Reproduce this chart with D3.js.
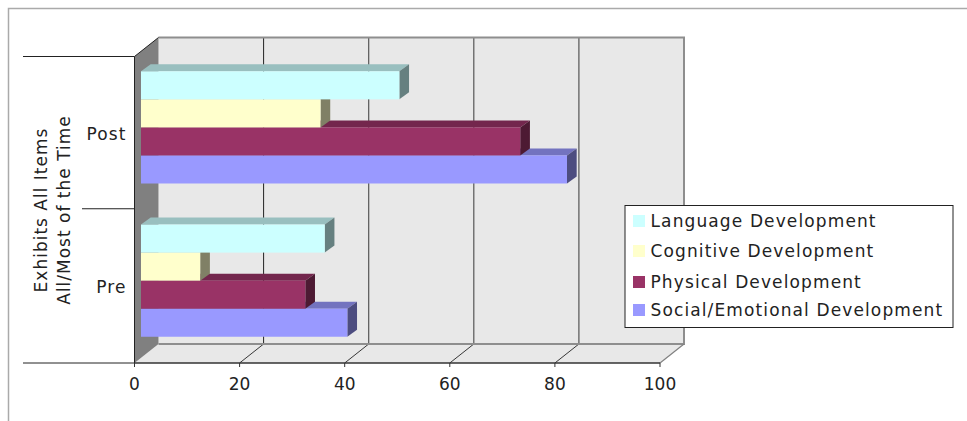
<!DOCTYPE html>
<html>
<head>
<meta charset="utf-8">
<script src="https://cdn.jsdelivr.net/npm/d3@7"></script>
<style>
  html, body { margin: 0; padding: 0; background: #fff; }
  svg { display: block; }
  text { font-family: "DejaVu Sans", Verdana, sans-serif; fill: #222; }
</style>
</head>
<body>
<svg id="chart" width="967" height="421"></svg>
<script>
// Chart data
const categories = ["Pre", "Post"];
const seriesNames = ["Language Development", "Cognitive Development", "Physical Development", "Social/Emotional Development"];
const language = [36.2, 50.4];
const cognitive = [12.5, 35.4];
const physical = [32.5, 73.4];
const social = [40.5, 82.3];
const xTicks = [0, 20, 40, 60, 80, 100];
const axisTitle = ["Exhibits All Items", "All/Most of the Time"];
const seriesColors = ["#CCFFFF", "#FFFFCC", "#993366", "#9999FF"];
const seriesValues = [language, cognitive, physical, social];

// Layout
const svg = d3.select("#chart");
const depthWall = { dx: 24, dy: -19 };
const depthBar = { dx: 9.7, dy: -7 };
const barInset = 6.5;
const plot = { left: 134.5, right: 660, top: 56.5, bottom: 363 };

const x = d3.scaleLinear().domain([0, 100]).range([plot.left, plot.right]);
const yCat = d3.scaleBand().domain(categories).range([plot.bottom, plot.top]);
const ySeries = d3.scaleBand().domain(d3.range(seriesNames.length)).range([14.8, 127]);

const pts = a => a.map(p => p.join(",")).join(" ");

// Outer frame, open on the right and at the bottom
svg.append("path").attr("d", "M8.5,421V8.5H967").attr("fill", "none")
  .attr("stroke", "#aaa").attr("stroke-width", 1.5);

// Back wall
const back = {
  l: plot.left + depthWall.dx, r: plot.right + depthWall.dx,
  t: plot.top + depthWall.dy, b: plot.bottom + depthWall.dy
};
svg.append("rect").attr("x", back.l).attr("y", back.t)
  .attr("width", back.r - back.l).attr("height", back.b - back.t).attr("fill", "#e8e8e8");

// Floor
svg.append("polygon").attr("fill", "#e8e8e8").attr("points", pts([
  [plot.left, plot.bottom], [plot.right, plot.bottom], [back.r, back.b], [back.l, back.b]
]));

// Gridlines on the back wall
svg.selectAll(".grid").data(xTicks.slice(1, -1)).join("line").attr("class", "grid")
  .attr("x1", d => x(d) + depthWall.dx).attr("x2", d => x(d) + depthWall.dx)
  .attr("y1", back.t).attr("y2", back.b)
  .attr("stroke", (d, i) => i === 0 ? "#222" : "#555").attr("stroke-width", (d, i) => i === 0 ? 1 : 1.2);

// Gridlines running across the floor
svg.selectAll(".floor").data(xTicks.slice(1, -1)).join("line").attr("class", "floor")
  .attr("x1", d => x(d)).attr("x2", d => x(d) + depthWall.dx)
  .attr("y1", plot.bottom).attr("y2", back.b)
  .attr("stroke", "#222").attr("stroke-width", 0.9);

// Wall outline
svg.append("path")
  .attr("d", `M${back.l},${back.t}H${back.r}V${back.b}H${back.l}`)
  .attr("fill", "none").attr("stroke", "#8e8e8e").attr("stroke-width", 2);
svg.append("line").attr("x1", plot.right).attr("y1", plot.bottom)
  .attr("x2", back.r).attr("y2", back.b).attr("stroke", "#808080").attr("stroke-width", 1.2);

// Side wall
svg.append("polygon").attr("fill", "#808080").attr("points", pts([
  [plot.left, plot.top], [back.l, back.t], [back.l, back.b], [plot.left, plot.bottom]
]));
svg.append("path").attr("d", `M${plot.left},${plot.bottom}V${plot.top}L${back.l},${back.t}`)
  .attr("fill", "none").attr("stroke", "#222").attr("stroke-width", 1);

// Category divider lines and the front edge of the floor
const dividers = [
  { y: plot.top, from: 23 },
  { y: yCat("Pre") - 1, from: 82 },
  { y: plot.bottom, from: 23 }
];
svg.selectAll(".divider").data(dividers).join("line").attr("class", "divider")
  .attr("x1", d => d.from).attr("x2", plot.left).attr("y1", d => d.y).attr("y2", d => d.y)
  .attr("stroke", "#222").attr("stroke-width", 1);
svg.append("line").attr("x1", plot.left).attr("x2", plot.right)
  .attr("y1", plot.bottom).attr("y2", plot.bottom).attr("stroke", "#333").attr("stroke-width", 1.5);

// Value axis ticks and labels
const xAxis = svg.append("g");
xAxis.selectAll("line").data(xTicks).join("line")
  .attr("x1", d => x(d)).attr("x2", d => x(d))
  .attr("y1", plot.bottom).attr("y2", plot.bottom + 4).attr("stroke", "#333");
xAxis.selectAll("text").data(xTicks).join("text")
  .attr("x", d => x(d)).attr("y", 390).attr("text-anchor", "middle")
  .attr("font-size", 17).text(d => d);

// Category labels
svg.selectAll(".cat").data(categories).join("text").attr("class", "cat")
  .attr("x", 126.5).attr("y", d => yCat(d) + yCat.bandwidth() / 2 + 7)
  .attr("text-anchor", "end").attr("font-size", 17).attr("letter-spacing", 1.1).text(d => d);

// Axis title, rotated, two lines
const titleBaselines = [46.5, 70];
svg.selectAll(".axis-title").data(axisTitle).join("text").attr("class", "axis-title")
  .attr("transform", (d, i) => `translate(${titleBaselines[i]},210) rotate(-90)`)
  .attr("text-anchor", "middle").attr("font-size", 17).attr("letter-spacing", 1).text(d => d);

// 3D bars, painted from the lowest series upward so each front face covers the top face below
const shade = (c, k) => {
  const rgb = d3.rgb(c);
  return d3.rgb(rgb.r * k, rgb.g * k, rgb.b * k).formatHex();
};

categories.forEach((cat, ci) => {
  const top = yCat(cat);
  d3.range(seriesNames.length).reverse().forEach(si => {
    const color = seriesColors[si];
    const y0 = top + ySeries(si);
    const y1 = y0 + ySeries.bandwidth();
    const x0 = x(0) + barInset;
    const x1 = x(seriesValues[si][ci]);
    const g = svg.append("g");
    g.append("polygon").attr("fill", shade(color, 0.75)).attr("points", pts([
      [x0, y0], [x0 + depthBar.dx, y0 + depthBar.dy], [x1 + depthBar.dx, y0 + depthBar.dy], [x1, y0]
    ]));
    g.append("polygon").attr("fill", shade(color, 0.5)).attr("points", pts([
      [x1, y0], [x1 + depthBar.dx, y0 + depthBar.dy], [x1 + depthBar.dx, y1 + depthBar.dy], [x1, y1]
    ]));
    g.append("rect").attr("x", x0).attr("y", y0).attr("width", x1 - x0).attr("height", y1 - y0).attr("fill", color);
  });
});

// Legend
const legendBox = { x: 625, y: 205.5, w: 328, h: 122 };
const swatchTops = [215, 245, 276, 304];
const legendBaselines = [226.5, 256.5, 287.5, 315.5];
const legend = svg.append("g");
legend.append("rect").attr("x", legendBox.x).attr("y", legendBox.y)
  .attr("width", legendBox.w).attr("height", legendBox.h)
  .attr("fill", "#fff").attr("stroke", "#222").attr("stroke-width", 1);
legend.selectAll("rect.swatch").data(seriesNames).join("rect").attr("class", "swatch")
  .attr("x", 633).attr("y", (d, i) => swatchTops[i]).attr("width", 12).attr("height", 12)
  .attr("fill", (d, i) => seriesColors[i]);
legend.selectAll("text").data(seriesNames).join("text")
  .attr("x", 650.5).attr("y", (d, i) => legendBaselines[i])
  .attr("font-size", 17).attr("letter-spacing", 1.12).text(d => d);
</script>
</body>
</html>
